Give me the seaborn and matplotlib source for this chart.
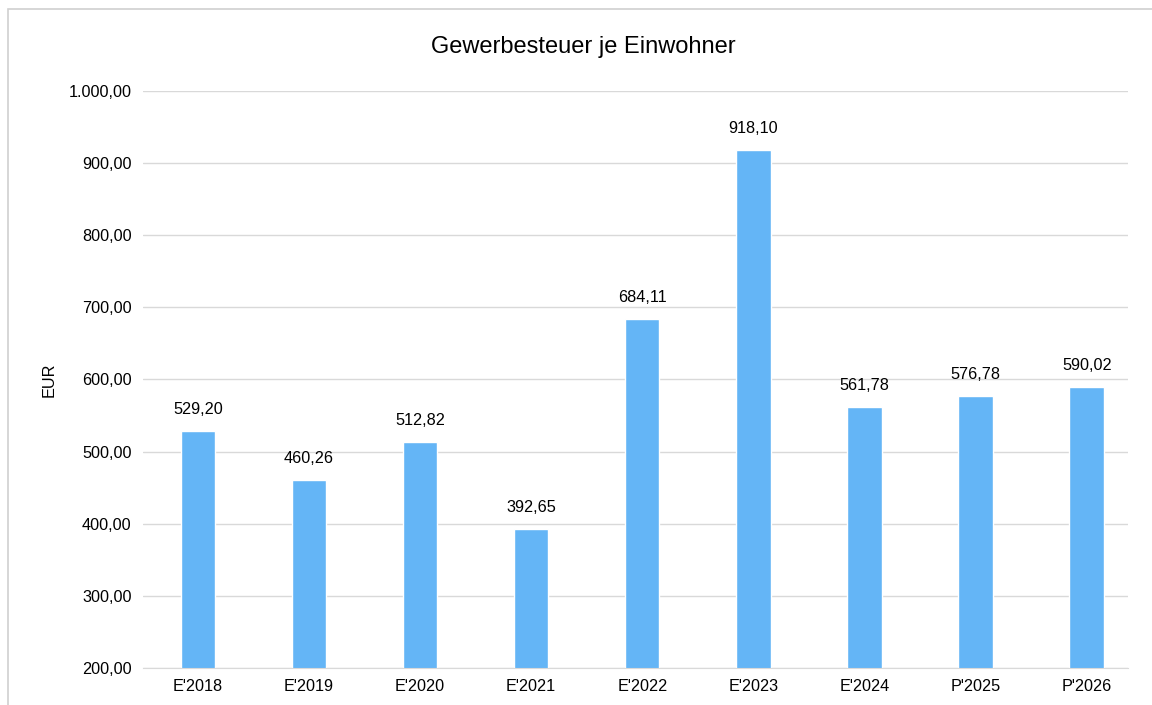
import matplotlib
matplotlib.use("Agg")
import matplotlib.pyplot as plt
import seaborn as sns
import pandas as pd
from matplotlib.patches import Rectangle
from matplotlib.ticker import FuncFormatter

# data
jahre = ["E'2018", "E'2019", "E'2020", "E'2021", "E'2022", "E'2023", "E'2024", "P'2025", "P'2026"]
werte = [529.20, 460.26, 512.82, 392.65, 684.11, 918.10, 561.78, 576.78, 590.02]

df = pd.DataFrame({'Jahr': jahre, 'EUR': werte})


def de_fmt(v, pos=None):
    s = f"{v:,.2f}"
    return s.replace(",", "X").replace(".", ",").replace("X", ".")


sns.set_style("white")
plt.rcParams['font.family'] = ['Liberation Sans', 'DejaVu Sans']

fig = plt.figure(figsize=(11.52, 7.05), dpi=100)
ax = fig.add_axes([0.124, 0.0525, 0.855, 0.8185])

sns.barplot(data=df, x='Jahr', y='EUR', color='#64B5F6', width=0.31,
            saturation=1, ax=ax)

ax.set_ylim(200, 1000)
ax.set_xlim(-0.495, 8.37)
ax.set_yticks(range(200, 1001, 100))
ax.yaxis.set_major_formatter(FuncFormatter(de_fmt))
ax.grid(axis='y', color='#d9d9d9', linewidth=1)
ax.set_axisbelow(True)
for s in ['top', 'right', 'left']:
    ax.spines[s].set_visible(False)
ax.spines['bottom'].set_color('#d9d9d9')
ax.tick_params(axis='both', length=0, labelsize=11.7, colors='black', pad=8)
ax.set_xlabel('')
ax.set_ylabel('EUR', fontsize=11.7, labelpad=9, color='black')

ax.bar_label(ax.containers[0], labels=[de_fmt(v) for v in werte],
             padding=10, fontsize=11.7, color='black')

fig.text(0.506, 0.934, 'Gewerbesteuer je Einwohner', ha='center', va='center',
         fontsize=17, color='black')

# frame of the screenshot
fig.patches.append(Rectangle((8 / 1152, -0.05), 1.2, 1 - 9 / 705 + 0.05,
                             transform=fig.transFigure, fill=False,
                             edgecolor='#d0d0d0', linewidth=1.2))

fig.savefig('out.png', dpi=100)
